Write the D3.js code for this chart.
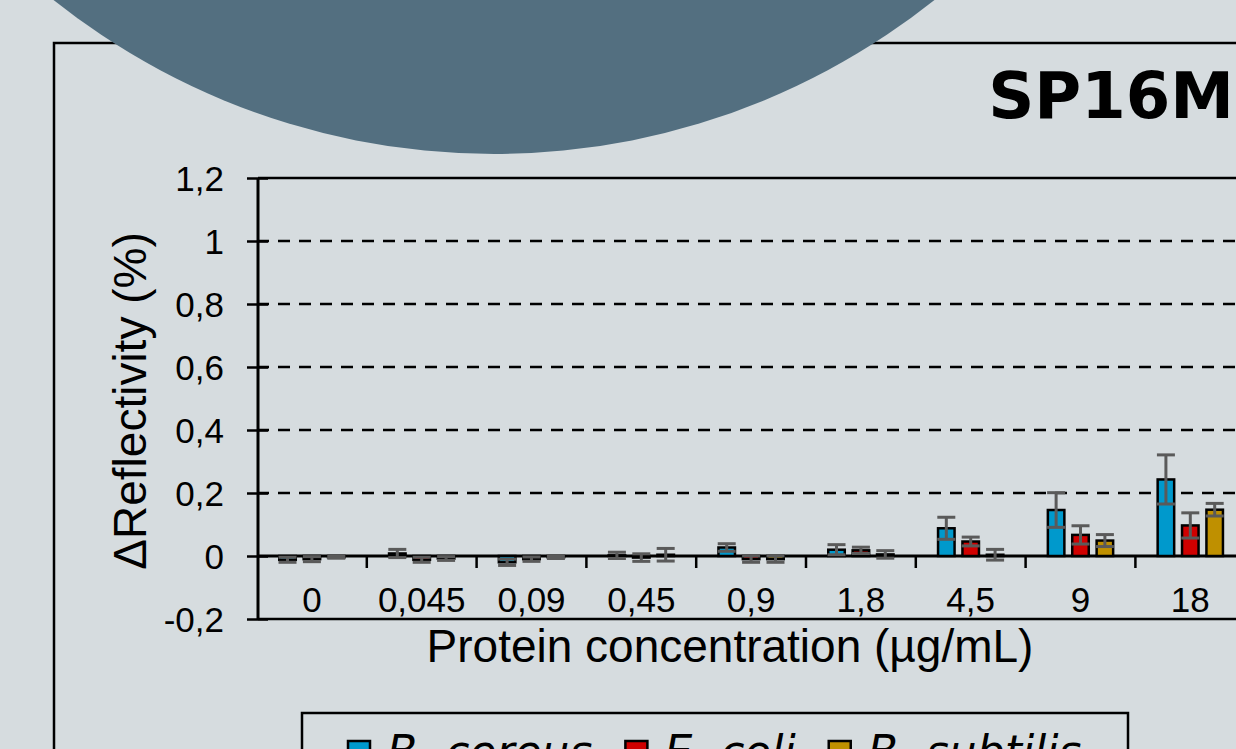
<!DOCTYPE html>
<html><head><meta charset="utf-8">
<script src="https://cdn.jsdelivr.net/npm/d3@7"></script>
<style>html,body{margin:0;padding:0;background:#D6DCDF;overflow:hidden}</style>
</head><body><svg id="c" width="1236" height="749"></svg>
<script>
const categories = ["0","0,045","0,09","0,45","0,9","1,8","4,5","9","18"];
const seriesNames = ["B. cereus","E. coli","B. subtilis"];
const seriesColors = ["#0099CC","#D00000","#BF9000"];
const bCereus      = [-0.012, 0.008, -0.020, 0.002, 0.027, 0.020, 0.088, 0.146, 0.243];
const bCereusErr   = [ 0.008, 0.013,  0.010, 0.010, 0.012, 0.016, 0.035, 0.055, 0.078];
const eColi        = [-0.010,-0.012, -0.010,-0.005,-0.010, 0.018, 0.046, 0.067, 0.097];
const eColiErr     = [ 0.008, 0.008,  0.007, 0.012, 0.010, 0.010, 0.014, 0.029, 0.040];
const bSubtilis    = [-0.004,-0.008, -0.004, 0.004,-0.010, 0.005, 0.004, 0.049, 0.147];
const bSubtilisErr = [ 0.003, 0.006,  0.004, 0.020, 0.010, 0.012, 0.017, 0.019, 0.020];
const yTicks = [-0.2, 0, 0.2, 0.4, 0.6, 0.8, 1.0, 1.2];
const gridTicks = [0.2, 0.4, 0.6, 0.8, 1.0];
const titleText = "SP16M";
const xTitle = "Protein concentration (µg/mL)";
const yTitle = "ΔReflectivity (%)";

const values = [bCereus, eColi, bSubtilis];
const errors = [bCereusErr, eColiErr, bSubtilisErr];

const W = 1236, H = 749;
const svg = d3.select('#c');
svg.append('rect').attr('width', W).attr('height', H).attr('fill', '#D6DCDF');

// outer frame
svg.append('rect').attr('x', 54).attr('y', 43).attr('width', 1400).attr('height', 900)
  .attr('fill', 'none').attr('stroke', '#000').attr('stroke-width', 2.5);
// decorative circle
svg.append('circle').attr('cx', 494).attr('cy', -553).attr('r', 707).attr('fill', '#536F80');

// title
svg.append('text').attr('x', 1234).attr('y', 118).attr('text-anchor', 'end')
  .attr('font-family', 'DejaVu Sans').attr('font-weight', 'bold').attr('font-size', 64)
  .attr('fill', '#000').text(titleText);

const step = 109.8;
const x = d3.scaleBand().domain(categories).range([257, 257 + step * categories.length]);
const xs = d3.scaleBand().domain(seriesNames).range([21, step - 21]).paddingInner(0.22);
const y = d3.scaleLinear().domain([-0.2, 1.2]).range([619, 178]);
const fmt = d => String(+d.toFixed(2)).replace('.', ',');
const axisX = 258;
const font = "'Liberation Sans', Arial, sans-serif";

// gridlines (dashed)
svg.append('g').selectAll('line').data(gridTicks).join('line')
  .attr('x1', axisX).attr('x2', W).attr('y1', d => y(d)).attr('y2', d => y(d))
  .attr('stroke', '#000').attr('stroke-width', 2.5).attr('stroke-dasharray', '12,9')
  .attr('stroke-dashoffset', -20);
// top and bottom solid lines
[1.2, -0.2].forEach(v => {
  svg.append('line').attr('x1', axisX).attr('x2', W).attr('y1', y(v)).attr('y2', y(v))
    .attr('stroke', '#000').attr('stroke-width', 2.5);
});

// y axis with outside ticks and labels
const gy = svg.append('g').attr('transform', `translate(${axisX},0)`)
  .call(d3.axisLeft(y).tickValues(yTicks).tickSize(11).tickPadding(23).tickFormat(fmt));
gy.select('.domain').attr('stroke-width', 3).attr('d', `M0,${y(1.2)}V${y(-0.2)}`);
gy.selectAll('.tick line').attr('stroke-width', 2.5);
gy.selectAll('.tick text').attr('font-family', font).attr('font-size', 35).attr('fill', '#000')
  .attr('dy', '0.36em');
// inside tick halves
const gy2 = svg.append('g').attr('transform', `translate(${axisX},0)`)
  .call(d3.axisRight(y).tickValues(yTicks).tickSize(10).tickFormat(''));
gy2.select('.domain').remove();
gy2.selectAll('.tick line').attr('stroke-width', 2.5);

// zero line
svg.append('line').attr('x1', axisX).attr('x2', W).attr('y1', y(0)).attr('y2', y(0))
  .attr('stroke', '#000').attr('stroke-width', 3);
// category boundary ticks
svg.append('g').selectAll('line').data(categories).join('line')
  .attr('x1', d => x(d) + x.bandwidth()).attr('x2', d => x(d) + x.bandwidth())
  .attr('y1', y(0)).attr('y2', y(0) + 12)
  .attr('stroke', '#000').attr('stroke-width', 2.5);
// category labels
svg.append('g').selectAll('text').data(categories).join('text')
  .attr('x', d => x(d) + x.bandwidth() / 2).attr('y', 612)
  .attr('text-anchor', 'middle').attr('font-family', font).attr('font-size', 35)
  .attr('fill', '#000').text(d => d);

// bars
const sw = 2.5;
seriesNames.forEach((s, si) => {
  const g = svg.append('g');
  g.selectAll('rect').data(categories).join('rect')
    .attr('x', d => x(d) + xs(s) + sw / 2)
    .attr('width', xs.bandwidth() - sw)
    .attr('y', (d, i) => y(Math.max(0, values[si][i])))
    .attr('height', (d, i) => Math.abs(y(values[si][i]) - y(0)))
    .attr('fill', seriesColors[si]).attr('stroke', '#000').attr('stroke-width', sw);
});
// error bars
seriesNames.forEach((s, si) => {
  const g = svg.append('g').attr('stroke', '#5A5A5A').attr('stroke-width', 3);
  categories.forEach((c, i) => {
    const cx = x(c) + xs(s) + xs.bandwidth() / 2;
    const v = values[si][i], e = errors[si][i];
    const hw = 9;
    g.append('line').attr('x1', cx).attr('x2', cx).attr('y1', y(v - e)).attr('y2', y(v + e));
    g.append('line').attr('x1', cx - hw).attr('x2', cx + hw).attr('y1', y(v + e)).attr('y2', y(v + e));
    g.append('line').attr('x1', cx - hw).attr('x2', cx + hw).attr('y1', y(v - e)).attr('y2', y(v - e));
  });
});

// axis titles
svg.append('text').attr('x', 730).attr('y', 662).attr('text-anchor', 'middle')
  .attr('font-family', font).attr('font-size', 46).attr('fill', '#000').text(xTitle);
svg.append('text').attr('transform', 'translate(146,401) rotate(-90)').attr('text-anchor', 'middle')
  .attr('font-family', font).attr('font-size', 46).attr('fill', '#000').text(yTitle);

// legend (cut by the bottom edge, as in the reference)
svg.append('rect').attr('x', 302).attr('y', 713).attr('width', 826).attr('height', 120)
  .attr('fill', 'none').attr('stroke', '#000').attr('stroke-width', 2.5);
const lg = svg.append('g');
let lx = 347;
seriesNames.forEach((s, si) => {
  lg.append('rect').attr('x', lx + 1).attr('y', 741).attr('width', 22).attr('height', 22)
    .attr('fill', seriesColors[si]).attr('stroke', '#000').attr('stroke-width', 2.5);
  const t = lg.append('text').attr('x', lx + 40).attr('y', 767)
    .attr('font-family', 'DejaVu Sans').attr('font-style', 'italic').attr('font-size', 44)
    .attr('fill', '#000').text(s);
  const w = t.node().getComputedTextLength();
  lx = lx + 40 + w + 32;
});
</script></body></html>
